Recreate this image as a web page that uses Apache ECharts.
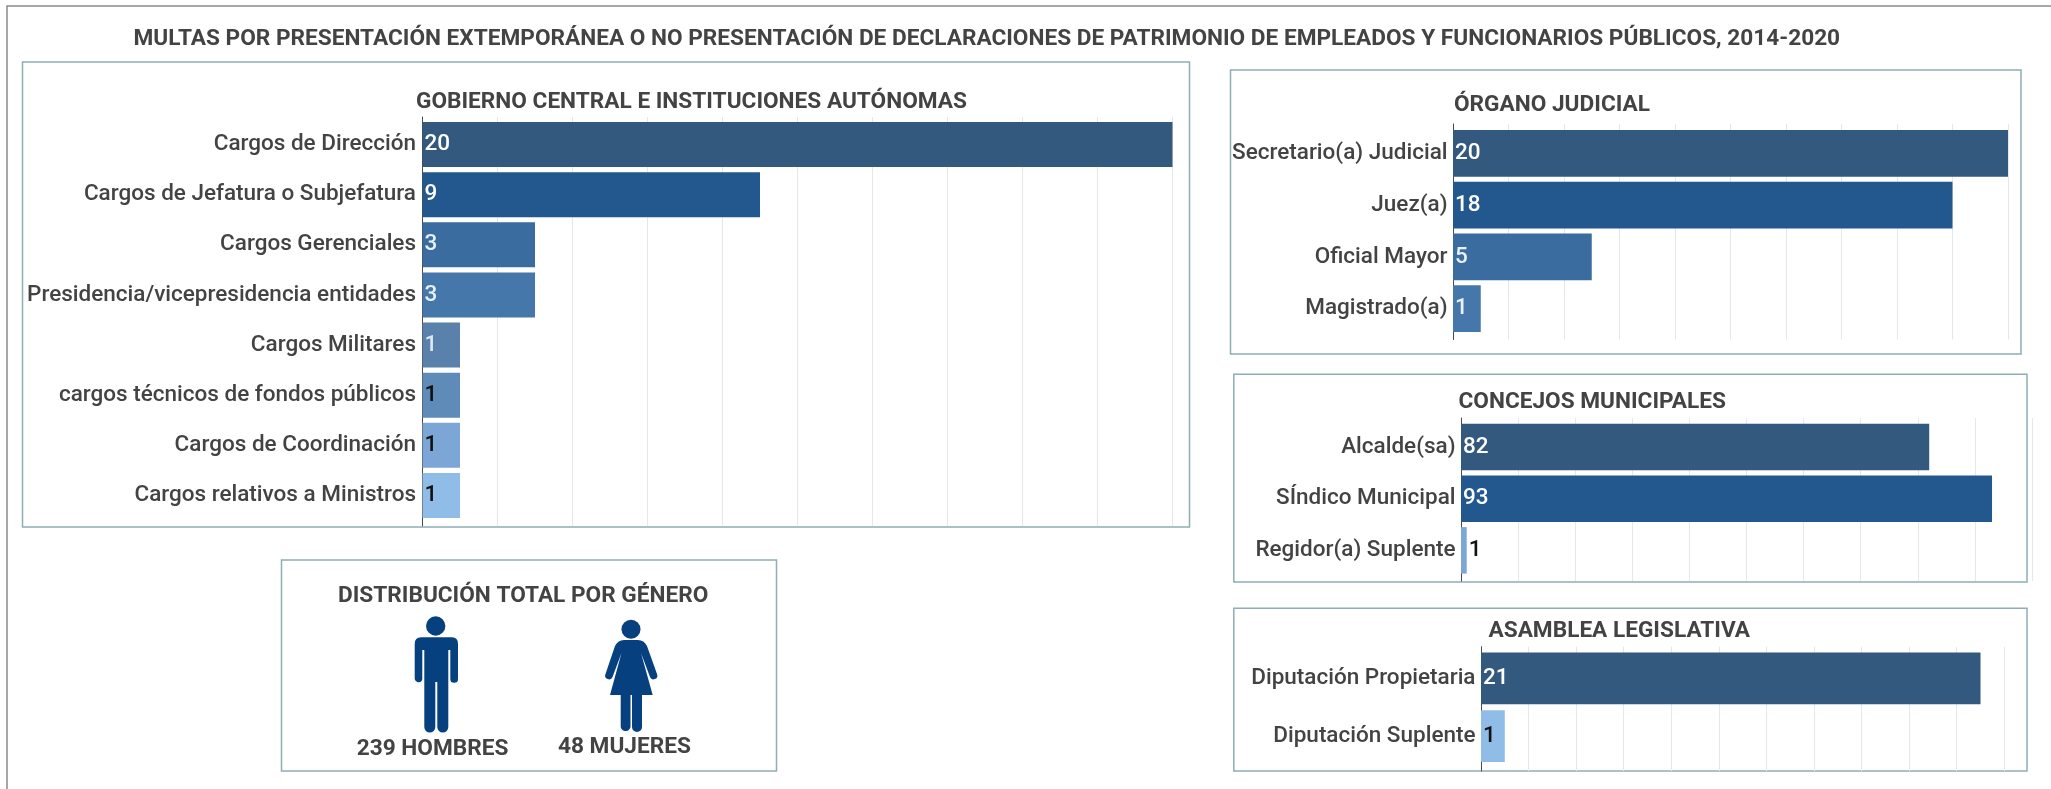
<!DOCTYPE html>
<html><head><meta charset="utf-8">
<style>html,body{margin:0;padding:0;background:#fff}#c{width:2051px;height:789px}</style>
<script src="https://cdn.jsdelivr.net/npm/echarts@6/dist/echarts.min.js"></script>
</head><body><div id="c"></div>
<script>
const mainTitle = 'MULTAS POR PRESENTACIÓN EXTEMPORÁNEA O NO PRESENTACIÓN DE DECLARACIONES DE PATRIMONIO DE EMPLEADOS Y FUNCIONARIOS PÚBLICOS, 2014-2020';
const gobiernoTitle = 'GOBIERNO CENTRAL E INSTITUCIONES AUTÓNOMAS';
const gobiernoCategories = ['Cargos de Dirección','Cargos de Jefatura o Subjefatura','Cargos Gerenciales','Presidencia/vicepresidencia entidades','Cargos Militares','cargos técnicos de fondos públicos','Cargos de Coordinación','Cargos relativos a Ministros'];
const gobiernoValues = [20,9,3,3,1,1,1,1];
const judicialTitle = 'ÓRGANO JUDICIAL';
const judicialCategories = ['Secretario(a) Judicial','Juez(a)','Oficial Mayor','Magistrado(a)'];
const judicialValues = [20,18,5,1];
const concejosTitle = 'CONCEJOS MUNICIPALES';
const concejosCategories = ['Alcalde(sa)','SÍndico Municipal','Regidor(a) Suplente'];
const concejosValues = [82,93,1];
const asambleaTitle = 'ASAMBLEA LEGISLATIVA';
const asambleaCategories = ['Diputación Propietaria','Diputación Suplente'];
const asambleaValues = [21,1];
const generoTitle = 'DISTRIBUCIÓN TOTAL POR GÉNERO';
const hombresLabel = '239 HOMBRES';
const mujeresLabel = '48 MUJERES';

const FONT = 'Roboto';
const TEXT = '#434343';
const FRAME = '#8fadb3';

const panels = [
  { cats: gobiernoCategories, vals: gobiernoValues, max: 20, step: 2,
    x0: 422.5, x1: 1172.5, barTop: 119.5, barBot: 520.5, lineTop: 117, lineBot: 526, margin: 6.5,
    colors: ['#34597f','#22588e','#3b6ca0','#4677ab','#5a81ac','#5e8bb8','#7ba6d6','#90bce8'],
    labelColors: ['#fff','#fff','#e8f0f8','#e8f0f8','#dbe6f2','#111','#111','#111'] },
  { cats: judicialCategories, vals: judicialValues, max: 20, step: 2,
    x0: 1453, x1: 2008, barTop: 127.5, barBot: 334.5, lineTop: 124, lineBot: 339.5, margin: 5.5,
    colors: ['#34597f','#22588e','#3b6ca0','#4677ab'],
    labelColors: ['#fff','#fff','#e8f0f8','#e8f0f8'] },
  { cats: concejosCategories, vals: concejosValues, max: 100, step: 10,
    x0: 1461, x1: 2032, barTop: 421.2, barBot: 576.2, lineTop: 418, lineBot: 581, margin: 5.5,
    colors: ['#34597f','#22588e','#7ba6d6'],
    labelColors: ['#fff','#fff','#111'], outside: [false,false,true] },
  { cats: asambleaCategories, vals: asambleaValues, max: 22, step: 2,
    x0: 1481, x1: 2004.3, barTop: 649.7, barBot: 764.8, lineTop: 646.7, lineBot: 771, margin: 5.5,
    colors: ['#34597f','#90bce8'],
    labelColors: ['#fff','#111'] }
];

const grid = [], xAxis = [], yAxis = [], series = [];
panels.forEach((p) => {
  const b = grid.length;
  grid.push({ left: p.x0, width: p.x1 - p.x0, top: p.lineTop, height: p.lineBot - p.lineTop, outerBoundsMode: 'none' });
  xAxis.push({ gridIndex: b, type: 'value', min: 0, max: p.max, interval: p.step,
    axisLabel: {show:false}, axisTick: {show:false}, axisLine: {show:false},
    splitLine: {show:true, lineStyle:{color:'#e4e8ec', width:1}} });
  yAxis.push({ gridIndex: b, type: 'value', min: 0, max: 1, interval: 1, position: 'left',
    axisLabel: {show:false}, axisTick: {show:false}, splitLine: {show:false},
    axisLine: {show:true, onZero:false, lineStyle:{color:'#4a4a4a', width:1}} });
  const g = grid.length;
  grid.push({ left: p.x0, width: p.x1 - p.x0, top: p.barTop, height: p.barBot - p.barTop, outerBoundsMode: 'none' });
  xAxis.push({ gridIndex: g, type: 'value', min: 0, max: p.max, interval: p.step,
    axisLabel: {show:false}, axisTick: {show:false}, axisLine: {show:false}, splitLine: {show:false} });
  yAxis.push({ gridIndex: g, type: 'category', inverse: true, data: p.cats,
    axisLine: {show:false}, axisTick: {show:false},
    axisLabel: { interval: 0, margin: p.margin, fontFamily: FONT, fontWeight: 500, fontSize: 22.5, color: TEXT, padding: [3,0,0,0] } });
  series.push({ type: 'bar', xAxisIndex: g, yAxisIndex: g, barWidth: '90%', z: 3, silent: true,
    data: p.vals.map((v, i) => ({
      value: v,
      itemStyle: { color: p.colors[i] },
      label: { show: true, position: (p.outside && p.outside[i]) ? 'right' : 'insideLeft',
        distance: 2, fontFamily: FONT, fontSize: 22.5, fontWeight: 500, padding: [3,0,0,0],
        color: p.labelColors[i] }
    })) });
});

const frame = (x, y, w, h, color, lw) => ({ type: 'rect', silent: true, z: 0,
  shape: { x, y, width: w, height: h }, style: { fill: 'transparent', stroke: color, lineWidth: lw } });
const text = (x, y, t, size, align) => ({ type: 'text', silent: true, z: 10, x, y,
  style: { text: t, fontFamily: FONT, fontWeight: 700, fontSize: size, fill: TEXT, align: align || 'left', verticalAlign: 'middle' } });
const ICON = '#07407f';
const manPath = 'M421 637.3 L452 637.3 Q458 637.3 458 644 L458 679 A3.85 3.85 0 0 1 450.3 679 L450.3 650 L448.3 650 L448.3 727 A5.5 5.5 0 0 1 437.3 727 L437.3 682 L435.3 682 L435.3 727 A5.5 5.5 0 0 1 424.3 727 L424.3 650 L422.3 650 L422.3 679 A3.85 3.85 0 0 1 414.7 679 L414.7 644 Q414.7 637.3 421 637.3 Z';
const womanPath = 'M624 640 L638 640 Q644 640 647 646 L657 674 A3.8 3.8 0 0 1 650 677 L641 653 L652.7 695 L642 695 L642 727 A5 5 0 0 1 632 727 L632 695 L630.5 695 L630.5 727 A5 5 0 0 1 620.7 727 L620.7 695 L610 695 L621.5 653 L612.5 677 A3.8 3.8 0 0 1 605.5 674 L615 646 Q618 640 624 640 Z';
echarts.graphic.registerShape('manIcon', echarts.graphic.extendPath(manPath, {}));
echarts.graphic.registerShape('womanIcon', echarts.graphic.extendPath(womanPath, {}));

const graphic = [
  frame(7, 6, 2060, 820, '#8a8a8a', 1.5),
  frame(22.5, 62, 1167, 465, FRAME, 1.5),
  frame(1230.5, 70, 790.5, 284, FRAME, 1.5),
  frame(1233.8, 374.3, 793.2, 207.7, FRAME, 1.5),
  frame(1233.8, 608.3, 793.2, 162.7, FRAME, 1.5),
  frame(281.5, 560, 495, 211, FRAME, 1.5),
  text(133.5, 39.5, mainTitle, 22.65),
  text(416, 102, gobiernoTitle, 22.65),
  text(1454, 105, judicialTitle, 22.65),
  text(1458.5, 402.5, concejosTitle, 22.65),
  text(1488.5, 631, asambleaTitle, 22.65),
  text(338, 596, generoTitle, 22.65),
  text(356.7, 749, hombresLabel, 22.65),
  text(558, 747, mujeresLabel, 22.65),
  { type:'circle', silent:true, shape:{cx:435.7, cy:626, r:9.7}, style:{fill:ICON} },
  { type:'manIcon', silent:true, style:{fill:ICON} },
  { type:'circle', silent:true, shape:{cx:631, cy:629.3, r:9.5}, style:{fill:ICON} },
  { type:'womanIcon', silent:true, style:{fill:ICON} }
];

const chart = echarts.init(document.getElementById('c'), null, { renderer: 'canvas' });
chart.setOption({ animation: false, backgroundColor: '#fff', tooltip: {show:false}, grid, xAxis, yAxis, series, graphic });
</script></body></html>
